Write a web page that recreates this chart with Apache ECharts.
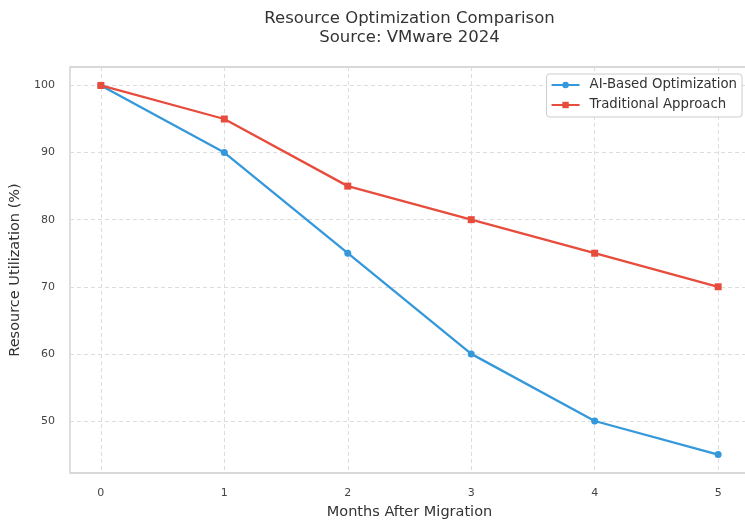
<!DOCTYPE html>
<html>
<head>
<meta charset="utf-8">
<script src="https://cdn.jsdelivr.net/npm/echarts@6/dist/echarts.min.js"></script>
<style>
  html, body { margin: 0; padding: 0; background: #fff; }
  #chart { width: 745px; height: 521px; }
</style>
</head>
<body>
<div id="chart"></div>
<script>
const months = [0, 1, 2, 3, 4, 5];
const aiBased = [100, 90, 75, 60, 50, 45];
const traditional = [100, 95, 85, 80, 75, 70];
const yTicks = [50, 60, 70, 80, 90, 100];
const xTicks = [0, 1, 2, 3, 4, 5];

const chart = echarts.init(document.getElementById('chart'), null, { renderer: 'canvas' });
const font = 'DejaVu Sans';

const option = {
  backgroundColor: '#ffffff',
  animation: false,
  textStyle: { fontFamily: font },
  graphic: [
    { type: 'text', x: 409.5, y: 18.5, style: { text: 'Resource Optimization Comparison', font: '16.5px "DejaVu Sans"', fill: '#333333', textAlign: 'center', textVerticalAlign: 'middle' } },
    { type: 'text', x: 409.5, y: 37.5, style: { text: 'Source: VMware 2024', font: '16.5px "DejaVu Sans"', fill: '#333333', textAlign: 'center', textVerticalAlign: 'middle' } }
  ],
  grid: {
    left: 70, top: 67, width: 679, height: 406,
    show: true, borderColor: '#cccccc', borderWidth: 1.3,
    containLabel: false, outerBoundsMode: 'none'
  },
  legend: {
    orient: 'vertical', right: 3, top: 74,
    backgroundColor: '#ffffff', borderColor: '#cccccc', borderWidth: 1, borderRadius: 3,
    padding: [4, 5, 5, 4], itemGap: 6, itemWidth: 28, itemHeight: 8,
    textStyle: { fontFamily: font, fontSize: 13.3, color: '#333333', lineHeight: 14, padding: [0, 0, 0, 5] },
    data: ['AI-Based Optimization', 'Traditional Approach']
  },
  xAxis: {
    type: 'value', min: -0.25, max: 5.25,
    name: 'Months After Migration', nameLocation: 'middle', nameGap: 32,
    nameTextStyle: { fontFamily: font, fontSize: 14.5, color: '#333333' },
    axisLine: { show: false },
    axisTick: { show: false, customValues: xTicks },
    axisLabel: { customValues: xTicks, margin: 15, fontFamily: font, fontSize: 11, color: '#444444' },
    splitLine: { show: true, lineStyle: { color: '#dddddd', type: [4, 3], width: 1 } }
  },
  yAxis: {
    type: 'value', min: 42.25, max: 102.75,
    name: 'Resource Utilization (%)', nameLocation: 'middle', nameGap: 43.5,
    nameTextStyle: { fontFamily: font, fontSize: 14.5, color: '#333333' },
    axisLine: { show: false },
    axisTick: { show: false, customValues: yTicks },
    axisLabel: { customValues: yTicks, margin: 15, fontFamily: font, fontSize: 11, color: '#444444' },
    splitLine: { show: true, lineStyle: { color: '#dddddd', type: [4, 3], width: 1 } }
  },
  series: [
    {
      name: 'AI-Based Optimization', type: 'line',
      data: months.map((m, i) => [m, aiBased[i]]),
      symbol: 'circle', symbolSize: 7,
      lineStyle: { color: '#3498db', width: 2.3 },
      itemStyle: { color: '#3498db' }
    },
    {
      name: 'Traditional Approach', type: 'line',
      data: months.map((m, i) => [m, traditional[i]]),
      symbol: 'rect', symbolSize: 7,
      lineStyle: { color: '#e74c3c', width: 2.3 },
      itemStyle: { color: '#e74c3c' }
    }
  ]
};
chart.setOption(option);
</script>
</body>
</html>
